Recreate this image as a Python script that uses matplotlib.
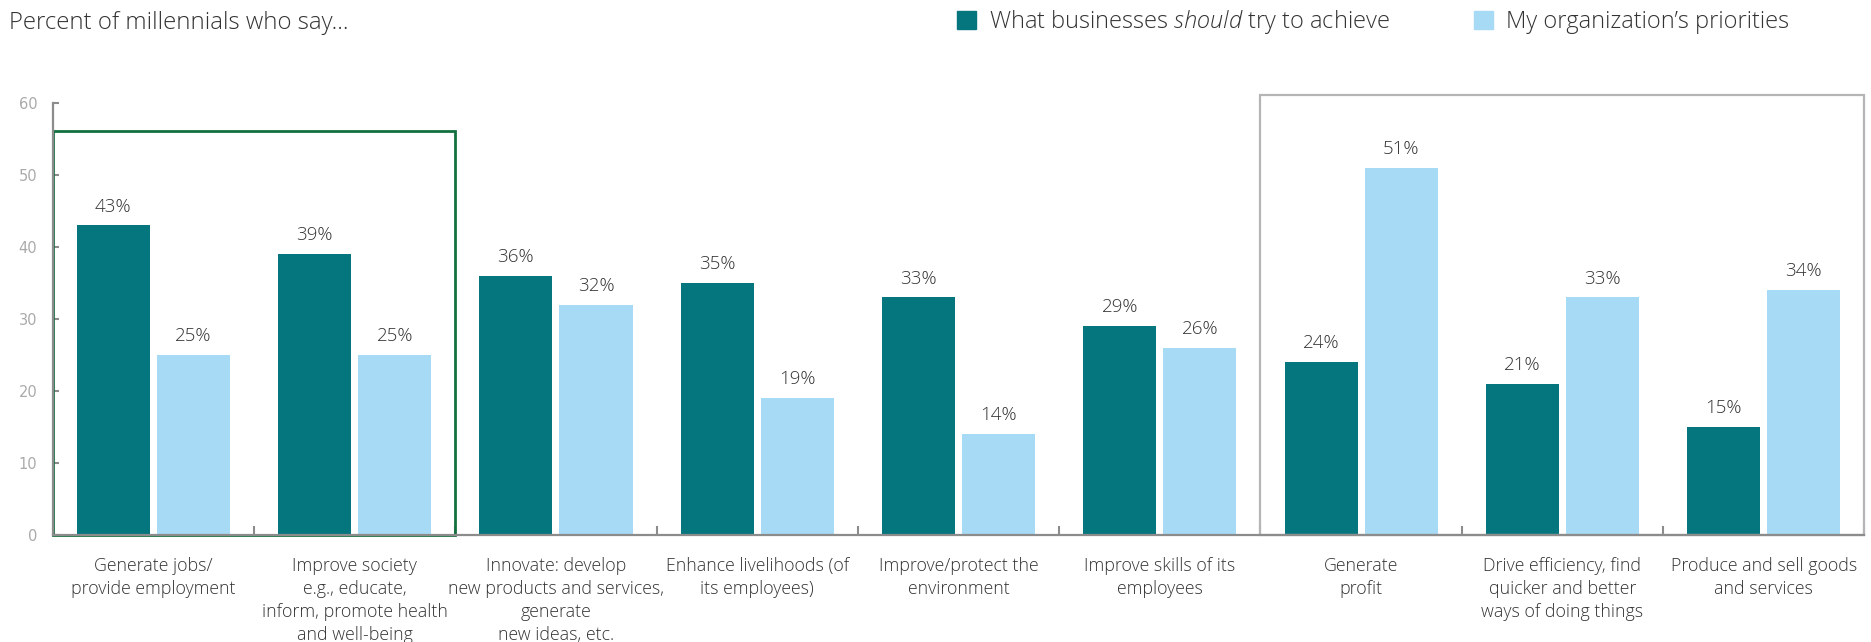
import matplotlib
matplotlib.use("Agg")
import matplotlib.pyplot as plt
from matplotlib.patches import Patch, Rectangle
import numpy as np

plt.rcParams['font.family'] = ['Open Sans', 'DejaVu Sans']
plt.rcParams['mathtext.fontset'] = 'custom'
plt.rcParams['mathtext.rm'] = 'Open Sans:light'
plt.rcParams['mathtext.it'] = 'Open Sans:italic:light'

categories = [
    "Generate jobs/\nprovide employment",
    "Improve society\ne.g., educate,\ninform, promote health\nand well-being",
    "Innovate: develop\nnew products and services,\ngenerate\nnew ideas, etc.",
    "Enhance livelihoods (of\nits employees)",
    "Improve/protect the\nenvironment",
    "Improve skills of its\nemployees",
    "Generate\nprofit",
    "Drive efficiency, find\nquicker and better\nways of doing things",
    "Produce and sell goods\nand services",
]
should_vals = [43, 39, 36, 35, 33, 29, 24, 21, 15]
org_vals = [25, 25, 32, 19, 14, 26, 51, 33, 34]
series_names = [r"What businesses $\mathit{should}$ try to achieve", "My organization’s priorities"]
yticks = [0, 10, 20, 30, 40, 50, 60]

teal = "#05757e"
light = "#a6daf5"
grey = "#8c8c8c"
txt = "#333333"

fig = plt.figure(figsize=(18.71, 6.42), dpi=100)
ax = fig.add_axes([52.7 / 1871, 107 / 642, 1811.7 / 1871, 432 / 642])

x = np.arange(len(categories)) + 0.5
w = 0.363
b1 = ax.bar(x - 0.199, should_vals, w, color=teal, zorder=2)
b2 = ax.bar(x + 0.199, org_vals, w, color=light, zorder=2)
for bars in (b1, b2):
    ax.bar_label(bars, fmt='{:.0f}%', padding=7, fontsize=13.5, color=txt, fontweight='light')

ax.set_xlim(0, 9)
ax.set_ylim(0, 60)

# highlight boxes
ax.add_patch(Rectangle((0, 0), 2, 56.15, fill=False, edgecolor="#13703f", lw=2, clip_on=False, zorder=3))
ax.add_patch(Rectangle((6, 0), 3, 61.1, fill=False, edgecolor="#b5b5b5", lw=1.6, clip_on=False, zorder=3))

for s in ['top', 'right']:
    ax.spines[s].set_visible(False)
for s in ['left', 'bottom']:
    ax.spines[s].set_color(grey)
    ax.spines[s].set_linewidth(1.6)
    ax.spines[s].set_zorder(4)

ax.set_yticks(yticks)
ax.tick_params(axis='y', direction='in', length=4, width=1.5, color=grey, pad=11,
               labelsize=10.5, labelcolor="#aaaaaa")
for lab in ax.get_yticklabels():
    lab.set_family('DejaVu Sans')

ax.set_xticks(x)
ax.set_xticklabels(categories, fontsize=12.8, color=txt, fontweight='light', linespacing=1.34)
ax.tick_params(axis='x', length=0, pad=16)
ax.set_xticks(np.arange(1, 10), minor=True)
ax.tick_params(axis='x', which='minor', direction='in', length=6.5, width=1.5, color=grey)

fig.text(9 / 1871, 1 - 29 / 642, "Percent of millennials who say...", fontsize=17.3, color=txt,
         fontweight='light', va='baseline')

handles = [Patch(color=teal), Patch(color=light)]
fig.legend(handles, series_names, loc='upper left', bbox_to_anchor=(957 / 1871, 1 - 8 / 642),
           ncol=2, frameon=False, handlelength=0.8, handleheight=0.8,
           handletextpad=0.55, columnspacing=3.55, borderpad=0, borderaxespad=0,
           labelcolor=txt, prop={'family': 'Open Sans', 'weight': 'light', 'size': 17})

fig.savefig("out.png", dpi=100)
